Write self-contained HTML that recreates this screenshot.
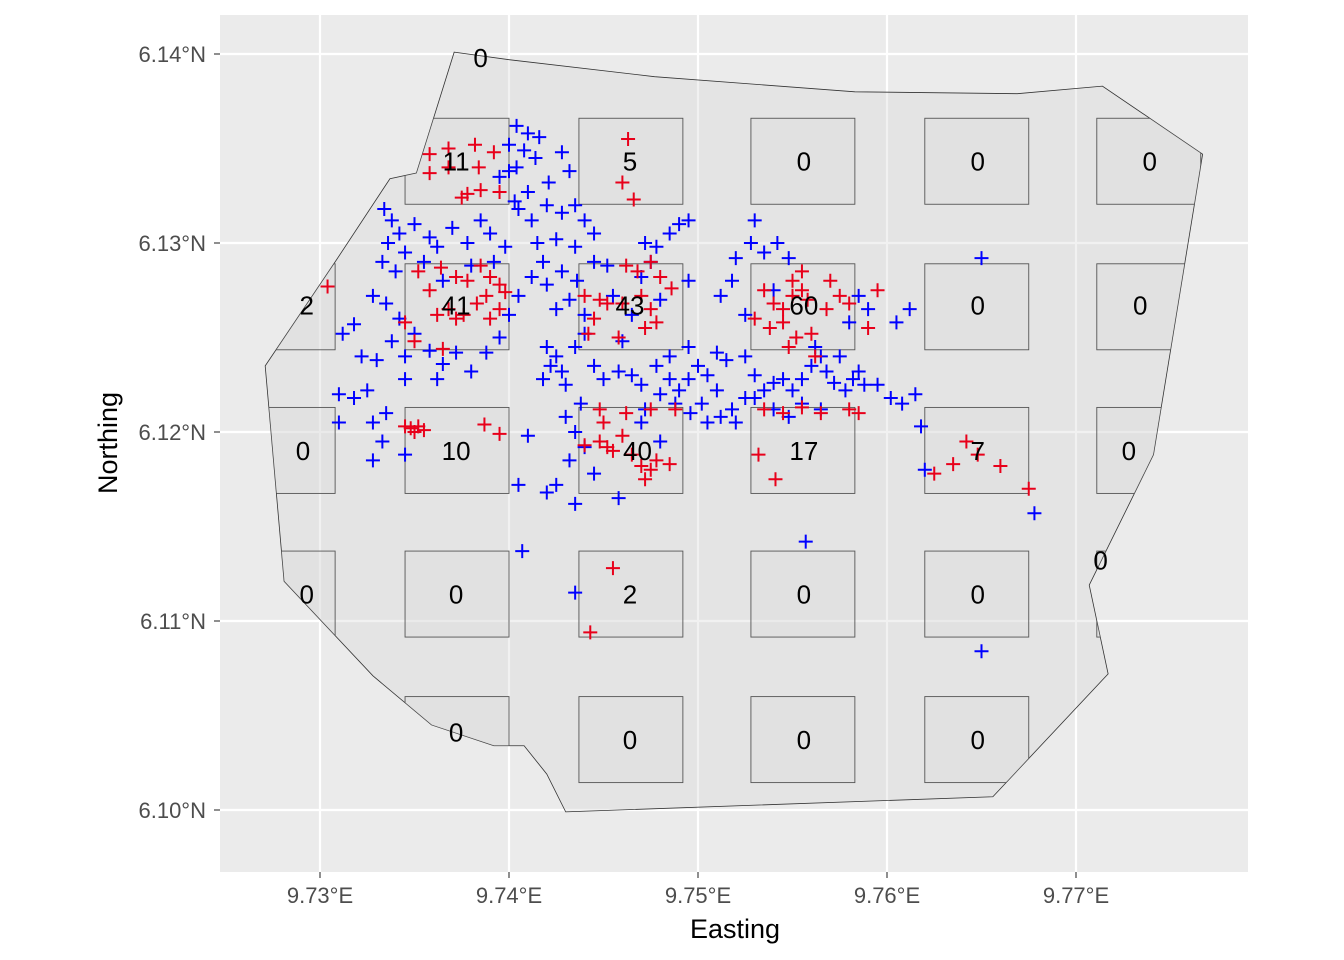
<!DOCTYPE html>
<html><head><meta charset="utf-8"><style>
html,body{margin:0;padding:0;background:#fff;}
svg{display:block;font-family:"Liberation Sans",sans-serif;}
</style></head><body>
<svg id="chart" width="1344" height="960" xmlns="http://www.w3.org/2000/svg">
<rect x="220" y="15" width="1028" height="857" fill="#ebebeb"/>
<g id="grid"></g>
<g id="poly"></g>
<g id="quads"></g>
<g id="pts"></g>
<g id="labels"></g>
<g id="axes"></g>
<text x="735" y="938" text-anchor="middle" font-size="27" fill="#000">Easting</text>
<text transform="translate(117,443) rotate(-90)" text-anchor="middle" font-size="27" fill="#000">Northing</text>
</svg>
<script>
const xTicks=[9.73,9.74,9.75,9.76,9.77];
const yTicks=[6.10,6.11,6.12,6.13,6.14];
const xTickLabels=["9.73°E","9.74°E","9.75°E","9.76°E","9.77°E"];
const yTickLabels=["6.10°N","6.11°N","6.12°N","6.13°N","6.14°N"];
const boundary=[[9.7371,6.1401],[9.7400,6.1397],[9.7477,6.1388],[9.7583,6.1380],[9.7669,6.1379],[9.7714,6.1383],[9.7767,6.1347],[9.7741,6.1188],[9.7707,6.1119],[9.7717,6.1072],[9.7656,6.1007],[9.7430,6.0999],[9.7420,6.1019],[9.7408,6.1034],[9.7392,6.1034],[9.7359,6.1045],[9.7328,6.1071],[9.7281,6.1121],[9.7271,6.1235],[9.7308,6.1290],[9.7337,6.1334],[9.7351,6.1337]];
const quadX=[9.7253,9.7345,9.7437,9.7528,9.7620,9.7711];
const quadY=[6.1366,6.1289,6.1213,6.1137,6.1060];
const quadW=0.0055, quadH=0.00455;
const countLon=[9.7385,9.7372,9.7464,9.7556,9.7648,9.7739,9.7293,9.7372,9.7464,9.7556,9.7648,9.7734,9.7291,9.7372,9.7468,9.7556,9.7648,9.7728,9.7293,9.7372,9.7464,9.7556,9.7648,9.7713,9.7372,9.7464,9.7556,9.7648];
const countLat=[6.1398,6.1343,6.1343,6.1343,6.1343,6.1343,6.1267,6.1267,6.1267,6.1267,6.1267,6.1267,6.1190,6.1190,6.1190,6.1190,6.1190,6.1190,6.1114,6.1114,6.1114,6.1114,6.1114,6.1132,6.1041,6.1037,6.1037,6.1037];
const counts=[0,11,5,0,0,0,2,41,43,60,0,0,0,10,40,17,7,0,0,0,2,0,0,0,0,0,0,0];
const bluePts=[[9.7404,6.1362],[9.7410,6.1358],[9.7416,6.1356],[9.7400,6.1352],[9.7408,6.1349],[9.7414,6.1345],[9.7404,6.1340],[9.7400,6.1338],[9.7395,6.1335],[9.7428,6.1348],[9.7432,6.1338],[9.7421,6.1332],[9.7410,6.1327],[9.7403,6.1322],
[9.7334,6.1318],[9.7338,6.1312],[9.7342,6.1305],[9.7336,6.1300],[9.7350,6.1310],[9.7358,6.1303],[9.7345,6.1295],[9.7333,6.1290],[9.7340,6.1285],[9.7355,6.1290],[9.7362,6.1298],[9.7370,6.1308],[9.7378,6.1300],[9.7385,6.1312],[9.7390,6.1305],[9.7398,6.1298],[9.7392,6.1290],[9.7380,6.1288],[9.7365,6.1280],[9.7335,6.1268],[9.7328,6.1272],[9.7342,6.1260],[9.7350,6.1252],[9.7338,6.1248],[9.7318,6.1257],[9.7312,6.1252],[9.7322,6.1240],[9.7330,6.1238],[9.7345,6.1240],[9.7358,6.1243],[9.7365,6.1236],[9.7372,6.1242],[9.7380,6.1232],[9.7388,6.1242],[9.7395,6.1250],[9.7362,6.1228],[9.7345,6.1228],[9.7318,6.1218],[9.7310,6.1220],[9.7325,6.1222],[9.7335,6.1210],[9.7328,6.1205],[9.7310,6.1205],[9.7333,6.1195],[9.7328,6.1185],[9.7345,6.1188],[9.7350,6.1200],
[9.7405,6.1318],[9.7412,6.1312],[9.7420,6.1320],[9.7428,6.1316],[9.7435,6.1320],[9.7440,6.1312],[9.7415,6.1300],[9.7425,6.1302],[9.7435,6.1298],[9.7445,6.1305],[9.7418,6.1290],[9.7412,6.1282],[9.7420,6.1278],[9.7428,6.1285],[9.7436,6.1280],[9.7445,6.1290],[9.7452,6.1288],[9.7432,6.1270],[9.7425,6.1265],[9.7440,6.1262],[9.7455,6.1272],[9.7405,6.1272],[9.7400,6.1262],
[9.7420,6.1245],[9.7425,6.1240],[9.7422,6.1235],[9.7428,6.1232],[9.7418,6.1228],[9.7430,6.1225],[9.7435,6.1245],[9.7440,6.1252],[9.7445,6.1235],[9.7450,6.1228],[9.7438,6.1215],[9.7430,6.1208],[9.7435,6.1200],[9.7440,6.1192],[9.7432,6.1185],[9.7425,6.1172],[9.7420,6.1168],[9.7435,6.1162],[9.7445,6.1178],[9.7405,6.1172],[9.7410,6.1198],[9.7460,6.1248],[9.7465,6.1262],[9.7470,6.1282],[9.7475,6.1290],[9.7478,6.1298],[9.7472,6.1300],
[9.7458,6.1232],[9.7465,6.1230],[9.7470,6.1225],[9.7478,6.1235],[9.7485,6.1228],[9.7490,6.1222],[9.7495,6.1228],[9.7500,6.1235],[9.7505,6.1230],[9.7510,6.1222],[9.7502,6.1215],[9.7496,6.1210],[9.7488,6.1215],[9.7480,6.1220],[9.7472,6.1212],[9.7505,6.1205],[9.7512,6.1208],[9.7518,6.1212],[9.7525,6.1218],[9.7520,6.1205],[9.7515,6.1238],[9.7525,6.1240],[9.7530,6.1230],[9.7535,6.1222],[9.7540,6.1226],[9.7545,6.1228],[9.7550,6.1222],[9.7555,6.1228],[9.7560,6.1235],[9.7565,6.1240],[9.7568,6.1232],[9.7572,6.1226],[9.7578,6.1222],[9.7582,6.1228],[9.7585,6.1232],[9.7588,6.1225],[9.7575,6.1240],[9.7562,6.1245],[9.7555,6.1215],[9.7565,6.1212],[9.7540,6.1212],[9.7548,6.1208],[9.7530,6.1218],[9.7510,6.1242],[9.7495,6.1245],[9.7485,6.1240],
[9.7530,6.1312],[9.7528,6.1300],[9.7520,6.1292],[9.7535,6.1295],[9.7542,6.1300],[9.7548,6.1292],[9.7518,6.1280],[9.7512,6.1272],[9.7525,6.1262],[9.7540,6.1275],[9.7490,6.1310],[9.7495,6.1312],[9.7485,6.1305],[9.7495,6.1280],[9.7480,6.1270],
[9.7585,6.1272],[9.7590,6.1265],[9.7580,6.1258],[9.7605,6.1258],[9.7612,6.1265],[9.7595,6.1225],[9.7602,6.1218],[9.7608,6.1215],[9.7615,6.1220],[9.7618,6.1203],[9.7620,6.1180],
[9.7407,6.1137],[9.7435,6.1115],[9.7557,6.1142],[9.7650,6.1084],[9.7678,6.1157],[9.7650,6.1292],[9.7458,6.1165],[9.7480,6.1195],[9.7470,6.1205]];
const redPts=[[9.7358,6.1347],[9.7368,6.1350],[9.7382,6.1352],[9.7392,6.1348],[9.7368,6.1340],[9.7358,6.1337],[9.7384,6.1340],[9.7385,6.1328],[9.7378,6.1326],[9.7375,6.1324],[9.7395,6.1327],[9.7364,6.1287],[9.7385,6.1288],[9.7372,6.1282],[9.7378,6.1280],[9.7390,6.1282],[9.7395,6.1278],[9.7398,6.1274],[9.7388,6.1272],[9.7383,6.1268],[9.7368,6.1265],[9.7362,6.1262],[9.7372,6.1260],[9.7376,6.1262],[9.7390,6.1260],[9.7395,6.1265],[9.7352,6.1285],[9.7358,6.1275],[9.7345,6.1258],[9.7350,6.1248],[9.7365,6.1244],
[9.7345,6.1203],[9.7348,6.1202],[9.7350,6.1200],[9.7352,6.1203],[9.7355,6.1201],[9.7387,6.1204],[9.7395,6.1199],
[9.7440,6.1272],[9.7448,6.1270],[9.7452,6.1268],[9.7460,6.1268],[9.7470,6.1272],[9.7475,6.1265],[9.7478,6.1258],[9.7472,6.1255],[9.7462,6.1288],[9.7468,6.1285],[9.7475,6.1290],[9.7480,6.1282],[9.7486,6.1276],[9.7445,6.1260],[9.7442,6.1252],[9.7458,6.1250],
[9.7440,6.1193],[9.7448,6.1195],[9.7452,6.1192],[9.7455,6.1190],[9.7460,6.1198],[9.7465,6.1188],[9.7470,6.1182],[9.7475,6.1180],[9.7472,6.1175],[9.7478,6.1185],[9.7485,6.1183],[9.7448,6.1212],[9.7462,6.1210],[9.7475,6.1212],[9.7488,6.1212],[9.7450,6.1205],
[9.7535,6.1275],[9.7540,6.1268],[9.7545,6.1265],[9.7550,6.1272],[9.7555,6.1275],[9.7550,6.1280],[9.7558,6.1270],[9.7545,6.1258],[9.7538,6.1255],[9.7530,6.1260],[9.7552,6.1250],[9.7560,6.1252],[9.7548,6.1245],[9.7562,6.1240],[9.7568,6.1265],[9.7575,6.1272],[9.7570,6.1280],[9.7580,6.1268],[9.7590,6.1255],[9.7595,6.1275],[9.7555,6.1285],
[9.7535,6.1212],[9.7545,6.1210],[9.7555,6.1213],[9.7565,6.1210],[9.7580,6.1212],[9.7585,6.1210],
[9.7625,6.1178],[9.7635,6.1183],[9.7642,6.1195],[9.7648,6.1188],[9.7660,6.1182],[9.7675,6.1170],
[9.7455,6.1128],[9.7443,6.1094],[9.7304,6.1277],[9.7463,6.1355],[9.7541,6.1175],[9.7532,6.1188],[9.7460,6.1332],[9.7466,6.1323]];

const NS="http://www.w3.org/2000/svg";
const sx=v=>320+(v-9.73)*18900;
const sy=v=>54+(6.14-v)*18900;
function mk(tag,parent,attrs){const e=document.createElementNS(NS,tag);for(const k in attrs)e.setAttribute(k,attrs[k]);parent.appendChild(e);return e;}
const grid=document.getElementById('grid');
xTicks.forEach(v=>{const l=mk('line',grid,{x1:sx(v),x2:sx(v),y1:15,y2:872,stroke:'#fff','stroke-width':2.2});

});
yTicks.forEach(v=>{const l=mk('line',grid,{x1:220,x2:1248,y1:sy(v),y2:sy(v),stroke:'#fff','stroke-width':2.2});

});
const polyPts=boundary.map(p=>sx(p[0])+','+sy(p[1])).join(' ');
const defs=mk('defs',document.getElementById('chart'),{});
const cp=mk('clipPath',defs,{id:'clipB'});
mk('polygon',cp,{points:polyPts});
const pg=mk('polygon',document.getElementById('poly'),{points:polyPts,fill:'#d6d6d6','fill-opacity':0.35,stroke:'#333','stroke-width':0.8});


const qg=document.getElementById('quads');qg.setAttribute('clip-path','url(#clipB)');
quadY.forEach(y=>quadX.forEach(x=>{const r=mk('rect',qg,{x:sx(x),y:sy(y),width:quadW*18900,height:quadH*18900,fill:'#d6d6d6','fill-opacity':0.25,stroke:'#555','stroke-width':0.9});

}));
const pgp=document.getElementById('pts');
function plus(p,col){const x=sx(p[0]),y=sy(p[1]);return mk('path',pgp,{d:`M${x-7} ${y}H${x+7}M${x} ${y-7}V${y+7}`,stroke:col,'stroke-width':2,fill:'none'});}
bluePts.forEach(p=>{const e=plus(p,'#0000ff');

});
redPts.forEach(p=>{const e=plus(p,'#e8001a');

});
const lg=document.getElementById('labels');
counts.forEach((c,i)=>{const t=mk('text',lg,{x:sx(countLon[i]),y:sy(countLat[i])+9,'text-anchor':'middle','font-size':26,fill:'#000'});t.textContent=c;

});
const ax=document.getElementById('axes');
xTicks.forEach((v,i)=>{const tk=mk('line',ax,{x1:sx(v),x2:sx(v),y1:872,y2:878,stroke:'#333','stroke-width':1.1});


const t=mk('text',ax,{x:sx(v),y:903,'text-anchor':'middle','font-size':22,fill:'#4d4d4d'});t.textContent=xTickLabels[i];

});
yTicks.forEach((v,i)=>{const tk=mk('line',ax,{x1:214,x2:220,y1:sy(v),y2:sy(v),stroke:'#333','stroke-width':1.1});


const t=mk('text',ax,{x:206,y:sy(v)+8,'text-anchor':'end','font-size':22,fill:'#4d4d4d'});t.textContent=yTickLabels[i];

});
</script>
</body></html>
